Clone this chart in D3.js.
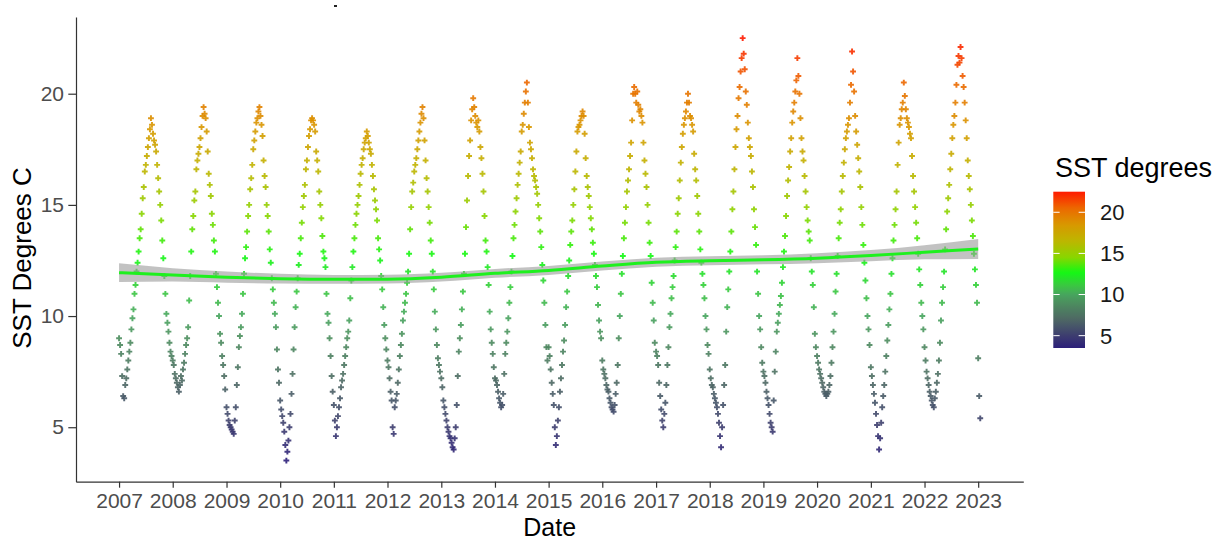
<!DOCTYPE html>
<html>
<head>
<meta charset="utf-8">
<title>SST Degrees C</title>
<script src="https://cdn.jsdelivr.net/npm/d3@7"></script>
<style>
  body { margin: 0; background: #fff; }
  text { font-family: "Liberation Sans", Arial, sans-serif; }
</style>
</head>
<body>
<script>
// weekly SST readings (degrees C), one value every 7 days from 1 January
const sst2007 = [9.0, 8.7, 8.3, 7.3, 6.4, 6.3, 6.9, 7.2, 7.6, 8.0, 8.4, 8.8, 9.4, 9.9, 10.3, 11.0, 11.4, 12.0, 12.4, 12.9, 13.5, 13.9, 14.6, 15.3, 15.8, 16.5, 16.8, 17.2, 17.6, 18.0, 18.4, 18.9, 18.6, 18.2, 17.9, 17.7, 17.4, 16.8, 16.2, 15.6, 15.0, 14.3, 13.4, 12.6, 11.8, 11.0, 10.1, 9.7, 9.3, 8.8, 8.4, 8.2];
const sst2008 = [8.0, 7.8, 7.4, 7.2, 7.0, 6.8, 6.6, 6.9, 7.3, 7.1, 7.6, 7.9, 8.3, 8.7, 9.0, 9.5, 10.7, 11.8, 12.9, 13.9, 14.5, 15.2, 15.6, 16.6, 17.0, 17.3, 17.6, 18.0, 18.5, 19.0, 19.4, 19.1, 18.9, 18.3, 17.4, 16.4, 15.9, 15.4, 14.6, 14.1, 13.4, 12.9, 11.9, 11.3, 10.6, 10.0, 9.2, 8.8, 8.2, 7.8, 7.3, 6.7];
const sst2009 = [5.9, 5.6, 5.3, 5.1, 5.0, 4.9, 4.8, 4.7, 5.3, 5.9, 6.9, 7.7, 8.6, 9.1, 9.5, 10.1, 11.0, 11.9, 12.6, 13.1, 13.8, 14.5, 15.0, 15.7, 16.2, 16.8, 17.5, 17.9, 18.3, 18.7, 18.9, 19.2, 19.4, 19.0, 18.6, 18.1, 17.0, 16.3, 15.8, 15.0, 14.5, 13.8, 13.0, 12.4, 11.7, 11.2, 10.6, 10.1, 9.5, 8.5, 7.6, 7.0];
const sst2010 = [6.2, 5.8, 5.5, 5.2, 4.8, 4.2, 3.5, 3.9, 4.4, 5.0, 5.6, 6.5, 7.4, 8.5, 9.5, 10.4, 11.1, 11.7, 12.3, 12.8, 13.5, 14.2, 14.9, 15.4, 15.9, 16.6, 17.0, 17.6, 18.1, 18.4, 18.8, 18.9, 18.8, 18.6, 18.3, 17.4, 17.0, 16.5, 15.6, 15.0, 14.4, 13.6, 12.9, 12.6, 12.2, 11.0, 10.1, 9.7, 9.0, 8.2, 7.3, 6.6];
const sst2011 = [6.0, 5.3, 4.6, 5.0, 5.5, 5.9, 6.3, 6.8, 7.1, 7.4, 7.8, 8.2, 8.6, 9.0, 9.3, 9.8, 10.8, 11.6, 12.2, 12.9, 13.5, 14.1, 14.6, 15.0, 15.4, 15.9, 16.4, 16.8, 17.1, 17.5, 17.8, 18.0, 18.3, 18.1, 17.8, 17.5, 17.3, 16.8, 16.3, 15.7, 15.2, 14.8, 14.3, 13.5, 13.0, 12.5, 11.8, 11.2, 10.4, 9.6, 9.0, 8.5];
const sst2012 = [8.0, 7.7, 7.2, 6.6, 6.2, 5.0, 4.7, 5.9, 6.2, 6.5, 7.0, 7.6, 8.2, 8.7, 9.2, 9.8, 10.2, 10.6, 11.0, 11.5, 12.0, 12.8, 13.9, 14.9, 15.6, 16.0, 16.5, 16.8, 17.1, 17.5, 17.9, 18.3, 18.7, 19.1, 19.4, 18.9, 17.9, 17.0, 16.2, 15.6, 14.9, 14.2, 13.4, 12.8, 12.0, 11.2, 10.2, 9.4, 8.7, 8.1, 7.8, 7.5];
const sst2013 = [7.2, 6.8, 6.2, 5.9, 5.6, 5.3, 5.0, 4.8, 4.6, 4.5, 4.3, 4.1, 4.0, 4.5, 5.0, 6.0, 7.3, 8.4, 9.0, 9.6, 10.3, 11.1, 11.9, 12.8, 14.0, 15.2, 16.3, 17.2, 17.9, 18.8, 19.3, 19.8, 19.4, 19.0, 18.7, 18.5, 18.8, 18.3, 17.6, 17.1, 16.4, 15.6, 14.5, 13.4, 12.9, 12.2, 11.4, 10.2, 9.4, 8.8, 8.3, 7.7];
const sst2014 = [7.2, 7.1, 6.9, 6.6, 6.3, 6.1, 5.9, 6.0, 6.5, 7.4, 8.3, 8.8, 9.3, 9.9, 10.6, 11.3, 12.0, 12.7, 13.5, 14.1, 14.7, 15.3, 15.9, 16.4, 16.9, 17.4, 18.3, 18.6, 19.1, 19.6, 20.1, 20.5, 19.6, 18.5, 17.8, 17.5, 17.1, 16.6, 16.3, 16.1, 15.8, 15.5, 15.0, 14.4, 13.8, 13.1, 12.3, 11.6, 10.6, 9.6, 8.6, 8.0];
const sst2015 = [8.6, 8.2, 7.6, 7.0, 6.5, 6.0, 5.0, 4.2, 4.6, 5.3, 5.9, 6.6, 7.2, 7.8, 8.4, 8.9, 9.6, 10.4, 11.1, 11.8, 12.5, 13.2, 13.8, 14.3, 15.0, 15.7, 16.5, 17.4, 18.3, 18.5, 18.6, 18.8, 19.0, 19.2, 19.0, 18.2, 17.1, 16.3, 15.8, 15.4, 14.9, 14.4, 13.9, 13.3, 12.8, 12.3, 11.8, 11.3, 10.5, 9.8, 9.3, 9.0];
const sst2016 = [8.0, 7.6, 7.4, 7.2, 6.9, 6.7, 6.6, 6.3, 6.1, 5.9, 5.8, 5.7, 6.0, 6.5, 7.0, 7.8, 9.0, 10.0, 11.0, 11.9, 12.7, 13.5, 14.2, 14.9, 15.6, 16.1, 16.6, 17.2, 17.8, 18.8, 20.0, 20.3, 20.0, 19.6, 20.1, 19.5, 19.2, 19.3, 19.0, 18.7, 17.8, 17.0, 16.4, 15.8, 15.0, 14.2, 13.3, 12.7, 11.5, 10.6, 9.8, 8.8];
const sst2017 = [8.4, 8.2, 7.8, 7.0, 6.4, 5.8, 5.3, 5.0, 5.6, 6.1, 6.9, 7.8, 8.6, 9.5, 10.1, 10.8, 11.3, 11.8, 12.5, 13.1, 13.8, 14.6, 15.3, 16.1, 16.9, 17.6, 18.2, 18.6, 18.9, 19.2, 19.6, 20.0, 19.6, 19.0, 18.9, 18.6, 18.3, 17.3, 16.6, 16.1, 15.4, 14.6, 13.8, 13.0, 12.4, 11.9, 11.4, 10.8, 10.0, 9.4, 8.7, 8.3];
const sst2018 = [7.6, 7.2, 6.9, 6.8, 6.5, 6.3, 6.1, 5.9, 5.6, 5.2, 4.6, 4.1, 5.0, 6.0, 6.9, 7.8, 9.3, 10.4, 11.2, 12.0, 12.9, 13.8, 14.8, 15.6, 16.6, 17.6, 18.4, 19.0, 19.8, 20.3, 21.0, 21.6, 22.5, 21.8, 21.1, 20.1, 19.5, 18.7, 18.0, 17.6, 17.2, 16.5, 15.8, 14.8, 14.0, 13.2, 12.0, 11.0, 10.0, 9.4, 8.6, 7.9];
const sst2019 = [7.5, 7.3, 7.0, 6.6, 6.3, 6.0, 5.6, 5.2, 5.0, 4.8, 6.2, 7.5, 8.4, 9.3, 9.7, 10.1, 10.5, 10.9, 11.5, 12.2, 12.9, 13.6, 14.5, 15.4, 16.1, 16.7, 17.4, 18.0, 18.7, 19.2, 19.6, 20.1, 20.6, 21.6, 20.8, 20.0, 18.9, 18.0, 17.4, 17.0, 16.3, 15.6, 14.9, 14.3, 13.8, 13.4, 12.6, 12.0, 11.4, 10.4, 9.2, 8.6];
const sst2020 = [8.2, 7.9, 7.6, 7.4, 7.2, 7.0, 6.8, 6.6, 6.5, 6.4, 6.5, 6.6, 6.9, 7.3, 7.9, 8.6, 9.3, 10.1, 11.1, 11.9, 12.7, 13.5, 14.2, 14.8, 15.6, 16.3, 16.9, 17.5, 18.0, 18.3, 18.6, 18.9, 19.6, 20.4, 21.9, 21.0, 20.1, 19.0, 18.3, 17.7, 17.1, 16.5, 15.8, 14.9, 14.1, 13.2, 12.4, 11.6, 10.8, 10.0, 9.4, 8.7];
const sst2021 = [7.7, 7.3, 6.9, 6.5, 6.1, 5.6, 5.1, 4.6, 4.0, 4.5, 5.2, 5.9, 6.4, 6.9, 7.5, 8.2, 8.9, 9.6, 10.3, 11.0, 11.9, 12.6, 13.4, 14.1, 14.8, 15.6, 16.8, 17.8, 18.6, 18.9, 19.3, 19.6, 20.5, 19.9, 19.3, 18.9, 18.7, 18.5, 18.2, 18.0, 17.2, 16.3, 15.6, 14.9, 14.2, 13.5, 12.8, 12.1, 11.4, 10.6, 10.0, 9.4];
const sst2022 = [8.6, 8.0, 7.5, 7.2, 6.9, 6.6, 6.4, 6.2, 6.0, 5.9, 6.3, 6.6, 7.0, 7.4, 8.0, 8.8, 9.8, 10.6, 11.3, 12.0, 13.0, 13.9, 14.7, 15.3, 15.9, 16.6, 17.3, 18.0, 18.6, 19.0, 19.6, 20.4, 21.3, 21.7, 21.4, 22.1, 21.6, 20.8, 20.3, 19.6, 18.8, 18.0, 17.0, 16.3, 15.7, 15.0, 14.3, 13.6, 12.8, 12.1, 11.4, 10.6];
const sst2023 = [8.1, 6.4, 5.4];

const yearList = [2007, 2008, 2009, 2010, 2011, 2012, 2013, 2014, 2015, 2016, 2017, 2018, 2019, 2020, 2021, 2022, 2023];
const sstByYear = [sst2007, sst2008, sst2009, sst2010, sst2011, sst2012, sst2013, sst2014, sst2015, sst2016, sst2017, sst2018, sst2019, sst2020, sst2021, sst2022, sst2023];

// smoothed trend and its standard error, read at 1 January of each year
const smoothFit = [11.95, 11.85, 11.75, 11.68, 11.65, 11.66, 11.75, 11.92, 12.05, 12.25, 12.42, 12.49, 12.53, 12.6, 12.72, 12.87, 13.02];
const smoothSe = [0.42, 0.3, 0.25, 0.22, 0.2, 0.2, 0.2, 0.2, 0.2, 0.2, 0.2, 0.2, 0.2, 0.22, 0.25, 0.32, 0.45];

const yTicks = [5, 10, 15, 20];
const legendTicks = [5, 10, 15, 20];

// colour gradient of the SST legend
const colourStops = [3.5, 5, 7, 9, 10, 11, 12.7, 14.5, 16.5, 18.5, 20.5, 22.5];
const colourValues = ["#2c1f7a", "#3d3d6f", "#4e6864", "#4c8e5e", "#47a55e", "#3cc444", "#14f814", "#88d600", "#bdb600", "#d89800", "#ec6800", "#ff1a00"];

const width = 1221;
const height = 541;
const panel = { left: 76, right: 1023.3, top: 17, bottom: 481.7 };

const svg = d3.select("body")
    .append("svg")
    .attr("width", width)
    .attr("height", height);

// flatten the yearly arrays into dated points
const data = [];
sstByYear.forEach((vals, k) => {
    vals.forEach((v, i) => {
        data.push({ date: new Date(yearList[k], 0, 1 + 7 * i), sst: v });
    });
});

// ggplot style 5% expansion around the data
const xExt = d3.extent(data, d => d.date);
const xPad = (xExt[1] - xExt[0]) * 0.05;
const xScale = d3.scaleTime()
    .domain([new Date(+xExt[0] - xPad), new Date(+xExt[1] + xPad)])
    .range([panel.left, panel.right]);

const yExt = d3.extent(data, d => d.sst);
const yPad = (yExt[1] - yExt[0]) * 0.05;
const yScale = d3.scaleLinear()
    .domain([yExt[0] - yPad, yExt[1] + yPad])
    .range([panel.bottom, panel.top]);

const colour = d3.scaleLinear()
    .domain(colourStops)
    .range(colourValues)
    .interpolate(d3.interpolateRgb)
    .clamp(true);

// points
svg.append("g")
    .selectAll("path")
    .data(data)
    .join("path")
    .attr("transform", d => `translate(${xScale(d.date)},${yScale(d.sst)})`)
    .attr("d", d3.symbol(d3.symbolCross, 19))
    .attr("fill", d => colour(d.sst))
    .attr("opacity", 0.9);

// smooth with confidence band
const smoothData = yearList.map((y, i) => ({ date: new Date(y, 0, 1), fit: smoothFit[i], se: smoothSe[i] }));

svg.append("path")
    .datum(smoothData)
    .attr("d", d3.area()
        .x(d => xScale(d.date))
        .y0(d => yScale(d.fit - d.se))
        .y1(d => yScale(d.fit + d.se))
        .curve(d3.curveMonotoneX))
    .attr("fill", "#999999")
    .attr("opacity", 0.6);

svg.append("path")
    .datum(smoothData)
    .attr("d", d3.line()
        .x(d => xScale(d.date))
        .y(d => yScale(d.fit))
        .curve(d3.curveMonotoneX))
    .attr("fill", "none")
    .attr("stroke", "#1ef01e")
    .attr("stroke-width", 3);

// axes
const xAxis = svg.append("g")
    .attr("transform", `translate(0,${panel.bottom})`)
    .call(d3.axisBottom(xScale)
        .ticks(d3.timeYear.every(1))
        .tickFormat(d3.timeFormat("%Y"))
        .tickSize(6)
        .tickSizeOuter(0)
        .tickPadding(5.5));

const yAxis = svg.append("g")
    .attr("transform", `translate(${panel.left},0)`)
    .call(d3.axisLeft(yScale)
        .tickValues(yTicks)
        .tickSize(7.7)
        .tickSizeOuter(0)
        .tickPadding(4.3));

[xAxis, yAxis].forEach(ax => {
    ax.select(".domain").attr("stroke", "#333").attr("stroke-width", 1.2);
    ax.selectAll(".tick line").attr("stroke", "#333").attr("stroke-width", 1.2);
    ax.selectAll(".tick text")
        .attr("fill", "#4d4d4d")
        .style("font-size", "21px")
        .style("font-family", "'Liberation Sans', Arial, sans-serif");
});

// axis titles
svg.append("text")
    .attr("x", (panel.left + panel.right) / 2)
    .attr("y", 535.5)
    .attr("text-anchor", "middle")
    .style("font-size", "25px")
    .attr("fill", "#000")
    .text("Date");

svg.append("text")
    .attr("transform", "translate(31,258) rotate(-90)")
    .attr("text-anchor", "middle")
    .style("font-size", "26px")
    .attr("fill", "#000")
    .text("SST Degrees C");

// stray mark of the cropped title
svg.append("rect")
    .attr("x", 334).attr("y", 5)
    .attr("width", 3).attr("height", 2)
    .attr("fill", "#222");

// colour bar legend
const bar = { x: 1053.3, top: 191.7, w: 31.7, bottom: 348 };
const legendScale = d3.scaleLinear().domain(yExt).range([bar.bottom, bar.top]);

const grad = svg.append("defs")
    .append("linearGradient")
    .attr("id", "sstGrad")
    .attr("x1", 0).attr("y1", 1)
    .attr("x2", 0).attr("y2", 0);

grad.selectAll("stop")
    .data(d3.range(0, 1.0001, 0.02))
    .join("stop")
    .attr("offset", t => t)
    .attr("stop-color", t => colour(yExt[0] + t * (yExt[1] - yExt[0])));

svg.append("text")
    .attr("x", 1055)
    .attr("y", 176.5)
    .style("font-size", "27px")
    .attr("fill", "#000")
    .text("SST degrees");

svg.append("rect")
    .attr("x", bar.x)
    .attr("y", bar.top)
    .attr("width", bar.w)
    .attr("height", bar.bottom - bar.top)
    .attr("fill", "url(#sstGrad)");

const tickLen = bar.w / 5;
const lt = svg.append("g").selectAll("g")
    .data(legendTicks)
    .join("g")
    .attr("transform", d => `translate(0,${legendScale(d)})`);

lt.append("line")
    .attr("x1", bar.x).attr("x2", bar.x + tickLen)
    .attr("stroke", "#fff").attr("stroke-width", 1);
lt.append("line")
    .attr("x1", bar.x + bar.w - tickLen).attr("x2", bar.x + bar.w)
    .attr("stroke", "#fff").attr("stroke-width", 1);
lt.append("text")
    .attr("x", 1100)
    .attr("dy", "0.36em")
    .style("font-size", "22px")
    .attr("fill", "#1a1a1a")
    .text(d => d);
</script>
</body>
</html>
